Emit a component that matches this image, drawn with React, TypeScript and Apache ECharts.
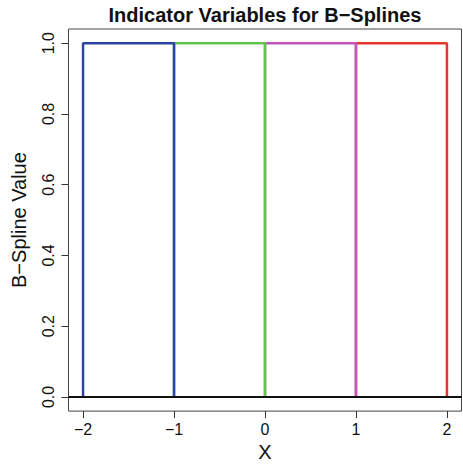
import React, { useEffect, useRef } from "react";
import * as echarts from "echarts";

const knots = [-2, -1, 0, 1, 2];
const basisNames = ["B1", "B2", "B3", "B4"];
const basisColors = ["#2b45a6", "#60c64b", "#c155bd", "#e6372c"];
const indicatorLevel = [1, 1, 1, 1];
const xTicks = [-2, -1, 0, 1, 2];
const yTicks = [0, 0.2, 0.4, 0.6, 0.8, 1.0];
const baseline = [[-2.16, 0], [2.16, 0]];

export default function App() {
  const ref = useRef<HTMLDivElement>(null);
  useEffect(() => {
    if (!ref.current) return;
    const chart = echarts.init(ref.current, null, { renderer: "svg" });
    const font = "'Liberation Sans', Arial, Helvetica, sans-serif";
    const series: any[] = [];
    // draw in reverse order so the left segment's edges sit on top
    for (let i = basisNames.length - 1; i >= 0; i--) {
      const a = knots[i];
      const b = knots[i + 1];
      const h = indicatorLevel[i];
      series.push({
        name: basisNames[i],
        type: "line",
        data: [[a, 0], [a, h], [b, h], [b, 0]],
        showSymbol: false,
        symbol: "none",
        lineStyle: { color: basisColors[i], width: 2.5 },
        z: 2 + (basisNames.length - i),
      });
    }
    series.push({
      name: "zero",
      type: "line",
      data: baseline,
      showSymbol: false,
      symbol: "none",
      lineStyle: { color: "#111", width: 2 },
      z: 10,
    });
    chart.setOption({
      animation: false,
      textStyle: { fontFamily: font },
      grid: {
        left: 68.5,
        right: 1.5,
        top: 29,
        bottom: 52,
        show: true,
        borderColor: "#444",
        borderWidth: 1,
        backgroundColor: "transparent",
      },
      graphic: [
        {
          type: "text",
          x: 265,
          y: 15,
          style: {
            text: "Indicator Variables for B\u2212Splines",
            font: `bold 20px ${font}`,
            fill: "#111",
            textAlign: "center",
            textVerticalAlign: "middle",
          },
        },
      ],
      xAxis: {
        type: "value",
        min: -2.16,
        max: 2.16,
        splitLine: { show: false },
        axisLine: { show: false, onZero: false },
        axisTick: {
          show: true,
          length: 7,
          customValues: xTicks,
          lineStyle: { color: "#333", width: 1 },
        },
        axisLabel: {
          customValues: xTicks,
          fontSize: 16,
          color: "#111",
          margin: 10,
          fontFamily: font,
          formatter: (v: number) => (v < 0 ? "\u2212" + Math.abs(v) : String(v)),
        },
        name: "X",
        nameLocation: "middle",
        nameGap: 30,
        nameTextStyle: { fontSize: 20, color: "#111", fontFamily: font },
      },
      yAxis: {
        type: "value",
        min: -0.04,
        max: 1.04,
        splitLine: { show: false },
        axisLine: { show: false, onZero: false },
        axisTick: {
          show: true,
          length: 7,
          customValues: yTicks,
          lineStyle: { color: "#333", width: 1 },
        },
        axisLabel: {
          customValues: yTicks,
          rotate: 90,
          fontSize: 16,
          color: "#111",
          margin: 12,
          fontFamily: font,
          formatter: (v: number) => v.toFixed(1),
        },
        name: "B\u2212Spline Value",
        nameLocation: "middle",
        nameRotate: 90,
        nameGap: 40,
        nameTextStyle: { fontSize: 20, color: "#111", fontFamily: font },
      },
      series,
    });
    return () => chart.dispose();
  }, []);
  return (
    <div
      ref={ref}
      style={{ position: "absolute", left: 0, top: 0, width: 463, height: 467, background: "#fff" }}
    />
  );
}
